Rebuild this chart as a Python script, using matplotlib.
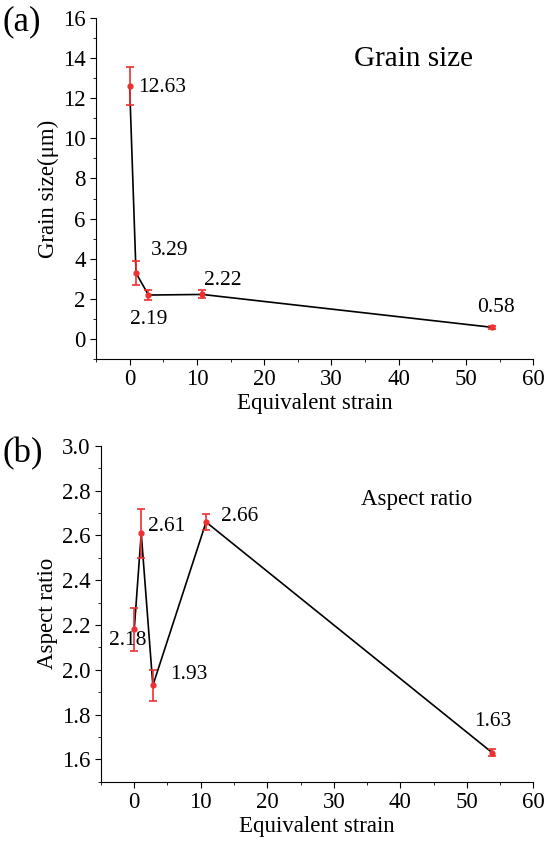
import numpy as np
import matplotlib.pyplot as plt
from matplotlib.ticker import MultipleLocator

plt.rcParams['font.family'] = ['Liberation Serif', 'DejaVu Serif']

# grain size panel
strain_a = [0, 0.95, 2.8, 10.8, 53.9]
grain = [12.63, 3.29, 2.19, 2.22, 0.58]
grain_err = [0.95, 0.58, 0.25, 0.2, 0.08]
grain_labels = ['12.63', '3.29', '2.19', '2.22', '0.58']
grain_lab_x = [1.3, 3.1, 0.0, 11.1, 51.6]
grain_lab_y = [12.56, 4.4, 0.95, 2.9, 1.55]

# aspect ratio panel
strain_b = [0, 1.05, 2.8, 10.8, 53.8]
aspect = [2.18, 2.61, 1.93, 2.66, 1.63]
aspect_err = [0.095, 0.11, 0.07, 0.035, 0.015]
aspect_labels = ['2.18', '2.61', '1.93', '2.66', '1.63']
aspect_lab_x = [-3.8, 2.1, 5.4, 13.1, 51.1]
aspect_lab_y = [2.13, 2.64, 1.977, 2.684, 1.768]

fig = plt.figure(figsize=(5.5, 8.49), dpi=100)
ax1 = fig.add_axes([0.1745, 0.5771, 0.7952, 0.4017])
ax2 = fig.add_axes([0.1836, 0.0793, 0.7861, 0.3954])

def style(ax):
    ax.spines['top'].set_visible(False)
    ax.spines['right'].set_visible(False)
    ax.tick_params(which='both', direction='out', labelsize=16.5, pad=3)
    ax.tick_params(which='major', length=4.5)
    ax.tick_params(which='minor', length=2.5)
    ax.set_xlim(-5, 60)
    ax.xaxis.set_major_locator(MultipleLocator(10))
    ax.xaxis.set_minor_locator(MultipleLocator(5))
    ax.set_xlabel('Equivalent strain', fontsize=16.5, labelpad=2)

ax1.plot(strain_a, grain, color='black', lw=1.2, zorder=2)
ax1.errorbar(strain_a, grain, yerr=grain_err, fmt='o', ms=3.5, color='#f03030',
             ecolor='#f03030', elinewidth=1.2, capsize=3, capthick=1.2, zorder=3)
for t, x, y in zip(grain_labels, grain_lab_x, grain_lab_y):
    ax1.text(x, y, t, fontsize=15.5, ha='left', va='center')
style(ax1)
ax1.set_ylim(-1, 16)
ax1.yaxis.set_major_locator(MultipleLocator(2))
ax1.yaxis.set_minor_locator(MultipleLocator(1))
ax1.set_ylabel('Grain size(μm)', fontsize=16.5, labelpad=3)
ax1.text(0.725, 0.88, 'Grain size', transform=ax1.transAxes, fontsize=21,
         ha='center', va='center')

ax2.plot(strain_b, aspect, color='black', lw=1.2, zorder=2)
ax2.errorbar(strain_b, aspect, yerr=aspect_err, fmt='o', ms=3.5, color='#f03030',
             ecolor='#f03030', elinewidth=1.2, capsize=3, capthick=1.2, zorder=3)
for t, x, y in zip(aspect_labels, aspect_lab_x, aspect_lab_y):
    ax2.text(x, y, t, fontsize=15.5, ha='left', va='center')
style(ax2)
ax2.set_ylim(1.5, 3.0)
ax2.yaxis.set_major_locator(MultipleLocator(0.2))
ax2.yaxis.set_minor_locator(MultipleLocator(0.1))
ax2.yaxis.set_major_formatter(plt.FormatStrFormatter('%.1f'))
ax2.set_ylabel('Aspect ratio', fontsize=16.5, labelpad=3)
ax2.text(0.73, 0.84, 'Aspect ratio', transform=ax2.transAxes, fontsize=16.5,
         ha='center', va='center')

fig.text(0.004, 0.974, '(a)', fontsize=25, ha='left', va='center')
fig.text(0.004, 0.466, '(b)', fontsize=25, ha='left', va='center')

fig.savefig('out.png', dpi=100)
